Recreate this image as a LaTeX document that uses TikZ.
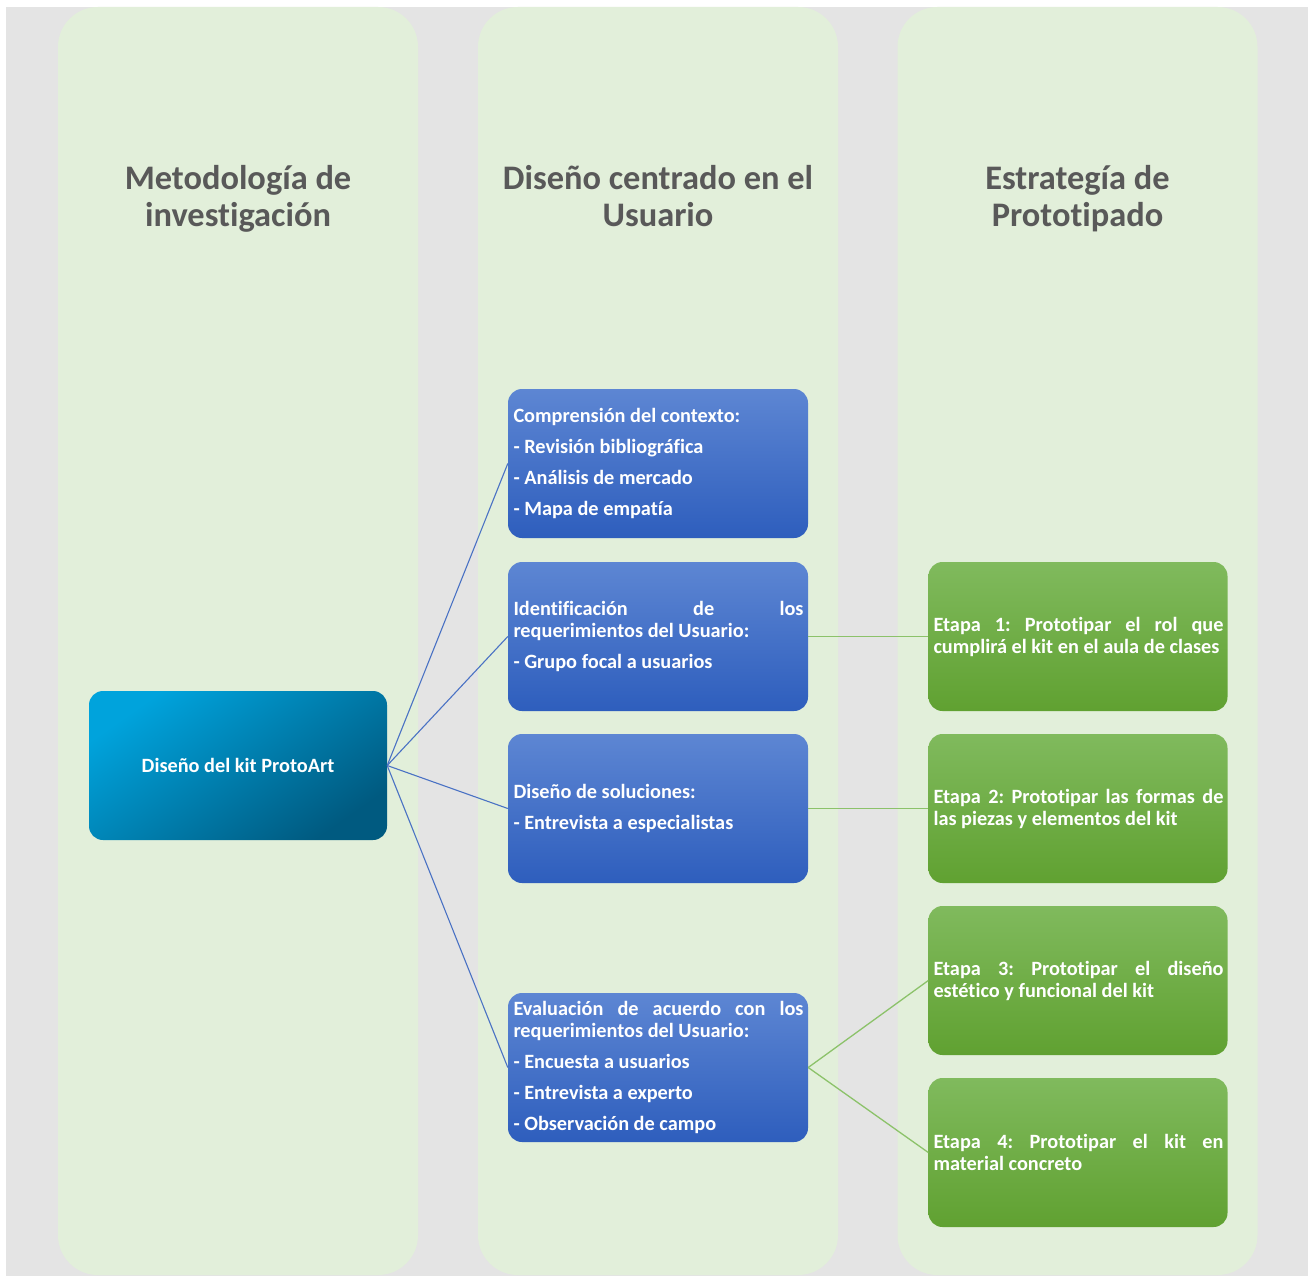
\documentclass[tikz,border=0pt]{standalone}
\usepackage{fontspec}
\setmainfont{Carlito}[Ligatures=NoCommon]
\usetikzlibrary{positioning}
\definecolor{bggray}{HTML}{E4E4E4}
\definecolor{colgreen}{HTML}{E2EFDA}
\definecolor{titlegray}{HTML}{595959}
\definecolor{rootA}{HTML}{00A3DC}
\definecolor{rootB}{HTML}{005A80}
\definecolor{blueA}{HTML}{5D86D3}
\definecolor{blueB}{HTML}{2E5EBD}
\definecolor{greenA}{HTML}{80BA5D}
\definecolor{greenB}{HTML}{60A131}
\definecolor{blueline}{HTML}{4A72C4}
\definecolor{greenline}{HTML}{8CC26A}
\newcommand{\boxtext}[1]{\hspace*{1pt}\begin{minipage}{290pt}\frenchspacing\setlength{\parskip}{9pt}\setlength{\parindent}{0pt}\hbadness=10000\hyphenpenalty=10000\fontsize{20.3}{22}\selectfont\bfseries #1\end{minipage}}
\tikzset{
  colbg/.style={fill=colgreen, draw=none, rounded corners=40pt, minimum width=360pt, minimum height=1268pt, inner sep=0pt},
  coltitle/.style={text=titlegray, font=\fontsize{34.4}{37}\selectfont\bfseries, align=center, inner sep=0pt},
  rootbox/.style={rounded corners=14pt, minimum width=298pt, minimum height=149pt, inner sep=0pt, top color=rootA, bottom color=rootB, shading angle=35, text=white, font=\fontsize{20.3}{22}\selectfont\bfseries},
  bluebox/.style={rounded corners=14pt, minimum width=300pt, minimum height=149pt, inner sep=0pt, top color=blueA, bottom color=blueB, text=white},
  greenbox/.style={rounded corners=14pt, minimum width=299pt, minimum height=149pt, inner sep=0pt, top color=greenA, bottom color=greenB, text=white},
  bluelink/.style={draw=blueline, line width=1.1pt},
  greenlink/.style={draw=greenline, line width=1.3pt}
}
\begin{document}
\begin{tikzpicture}[x=1pt,y=-1pt]
\useasboundingbox (0,0) rectangle (1312,1276);
\fill[white] (0,0) rectangle (1312,1276);
\fill[bggray] (6,7) rectangle (1308,1276);
\node[colbg] (c1) at (238,641) {};
\node[colbg] (c2) at (658,641) {};
\node[colbg] (c3) at (1077.5,641) {};
\node[coltitle] (t1) at (238,201) {\strut Metodología de\\\strut investigación};
\node[coltitle] (t2) at (658,201) {\strut Diseño centrado en el\\\strut Usuario};
\node[coltitle] (t3) at (1077.5,201) {\strut Estrategía de\\\strut Prototipado};
\node[rootbox] (root) at (238,765.5) {Diseño del kit ProtoArt};
\node[bluebox] (b1) at (658,463.5) {\boxtext{Comprensión del contexto:\par - Revisión bibliográfica\par - Análisis de mercado\par - Mapa de empatía}};
\node[bluebox] (b2) at (658,636.5) {\boxtext{Identificación de los\linebreak requerimientos del Usuario:\par - Grupo focal a usuarios}};
\node[bluebox] (b3) at (658,808.5) {\boxtext{Diseño de soluciones:\par - Entrevista a especialistas}};
\node[bluebox] (b4) at (658,1067.5) {\boxtext{Evaluación de acuerdo con los\linebreak requerimientos del Usuario:\par - Encuesta a usuarios\par - Entrevista a experto\par - Observación de campo}};
\node[greenbox] (g1) at (1078,636.5) {\boxtext{Etapa 1: Prototipar el rol que\linebreak cumplirá el kit en el aula de clases}};
\node[greenbox] (g2) at (1078,808.5) {\boxtext{Etapa 2: Prototipar las formas de\linebreak las piezas y elementos del kit}};
\node[greenbox] (g3) at (1078,980.5) {\boxtext{Etapa 3: Prototipar el diseño\linebreak estético y funcional del kit}};
\node[greenbox] (g4) at (1078,1152.5) {\boxtext{Etapa 4: Prototipar el kit en\linebreak material concreto}};
\draw[bluelink] (root.east) -- (b1.west);
\draw[bluelink] (root.east) -- (b2.west);
\draw[bluelink] (root.east) -- (b3.west);
\draw[bluelink] (root.east) -- (b4.west);
\draw[greenlink] (b2.east) -- (g1.west);
\draw[greenlink] (b3.east) -- (g2.west);
\draw[greenlink] (b4.east) -- (g3.west);
\draw[greenlink] (b4.east) -- (g4.west);
\end{tikzpicture}
\end{document}
